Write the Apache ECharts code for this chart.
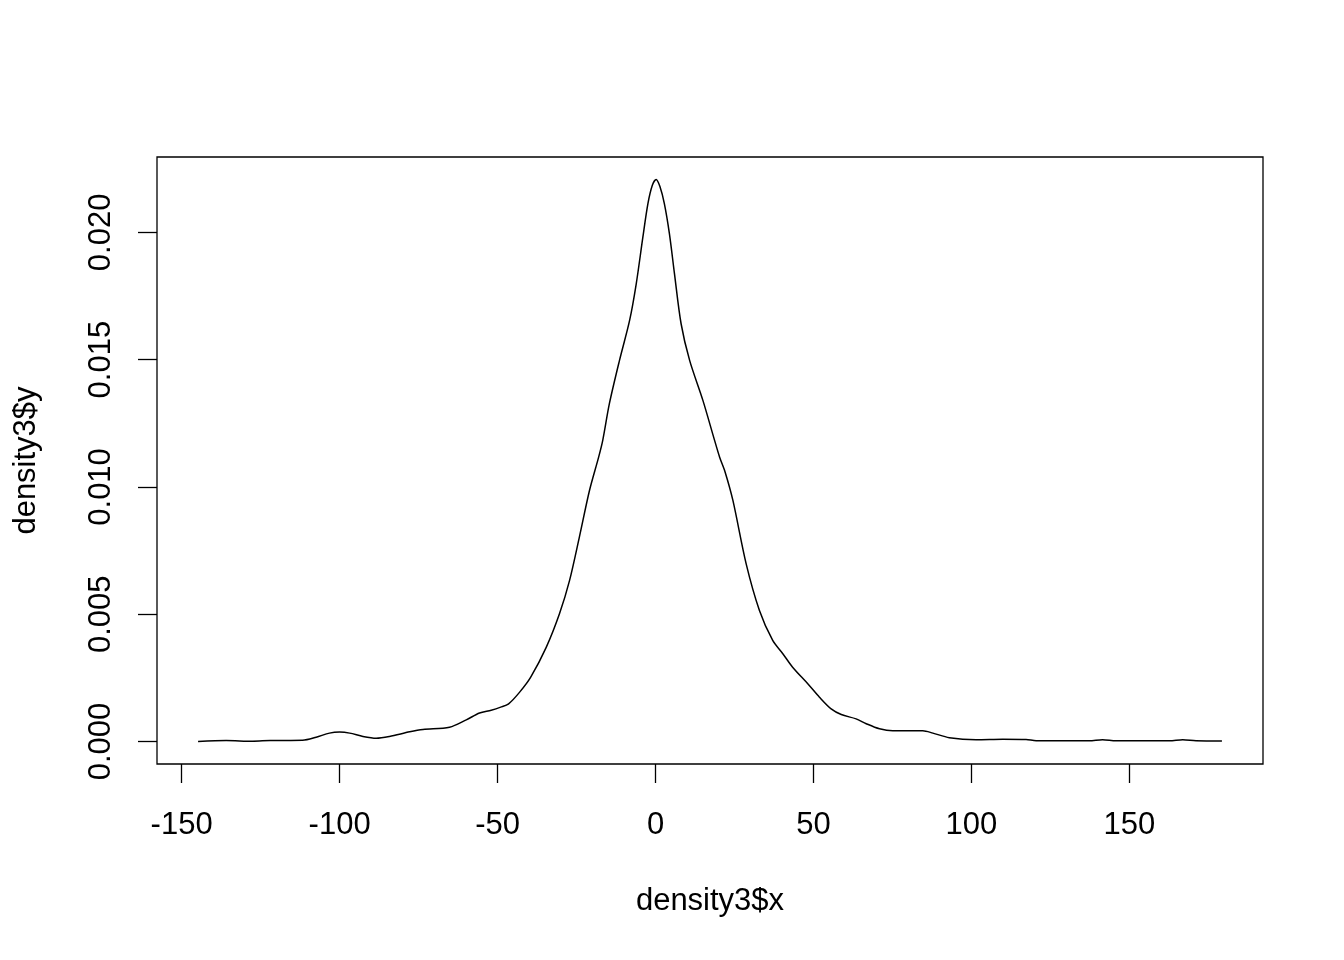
<!DOCTYPE html>
<html>
<head>
<meta charset="utf-8">
<script src="https://cdn.jsdelivr.net/npm/echarts@6/dist/echarts.min.js"></script>
<style>html,body{margin:0;padding:0;background:#fff}#c{width:1344px;height:960px}</style>
</head>
<body>
<div id="c"></div>
<script>
const xValues = [-144.8,-135.9,-127.5,-122,-111.7,-107.4,-103.2,-100,-96.8,-92.6,-88.4,-84.2,-77.8,-73.6,-65.2,-59.9,-55.7,-52,-49,-46.5,-43,-39.5,-34.6,-30.4,-27.2,-24.1,-20.9,-18,-16.7,-14.6,-11.4,-8.2,-6.1,-4,-2.4,-1,0.2,1.4,2.8,4.4,6,8.1,10.8,15,18.7,20.3,22,24.5,28.7,32.9,37.1,40.3,43.4,48.2,51.9,55.6,58.8,63.5,66.7,70.9,75.1,84.6,87.8,93,101.5,109.9,117.3,120.5,137.3,141.5,145.8,162.7,166.9,171.1,179.3];
const yValues = [0,0.00004,0.00001,0.00004,0.00005,0.00017,0.00033,0.00037,0.00033,0.0002,0.00013,0.0002,0.00038,0.00047,0.00056,0.00085,0.00112,0.00123,0.00135,0.00148,0.00194,0.00253,0.0037,0.00502,0.00633,0.00803,0.00986,0.01117,0.01183,0.01327,0.01497,0.01654,0.01798,0.01981,0.02113,0.02185,0.02208,0.0218,0.02113,0.01995,0.01838,0.01641,0.01497,0.0134,0.01183,0.01117,0.0106,0.00947,0.00698,0.00515,0.00397,0.00345,0.00292,0.00227,0.00174,0.00128,0.00106,0.00089,0.0007,0.0005,0.00042,0.00042,0.00033,0.00015,0.00007,0.00009,0.00008,0.00003,0.00003,0.00007,0.00003,0.00003,0.00007,0.00003,0.00002];
const xTicks = [-150,-100,-50,0,50,100,150];
const yTicks = [0,0.005,0.010,0.015,0.020];
const xTitle = 'density3$x';
const yTitle = 'density3$y';

const FONT = 'Liberation Sans';
const FS = 31;
const chart = echarts.init(document.getElementById('c'), null, {renderer:'canvas'});
const data = xValues.map((x,i)=>[x,yValues[i]]);
chart.setOption({
  animation:false,
  backgroundColor:'#fff',
  grid:{left:157,right:81,top:157,bottom:196,show:true,borderColor:'#000',borderWidth:1.3,backgroundColor:'transparent'},
  xAxis:{
    type:'value',min:-157.8,max:192.3,
    name:xTitle,nameLocation:'middle',nameGap:122,
    nameTextStyle:{fontFamily:FONT,fontSize:FS,color:'#000'},
    axisLine:{show:false,onZero:false},
    splitLine:{show:false},
    axisTick:{show:true,inside:false,length:19,customValues:xTicks,lineStyle:{color:'#000',width:1.3}},
    axisLabel:{customValues:xTicks,margin:46,fontFamily:FONT,fontSize:FS,color:'#000',formatter:v=>String(v)}
  },
  yAxis:{
    type:'value',min:-0.000883,max:0.02296,
    name:yTitle,nameLocation:'middle',nameGap:115,nameRotate:90,
    nameTextStyle:{fontFamily:FONT,fontSize:FS,color:'#000'},
    axisLine:{show:false,onZero:false},
    splitLine:{show:false},
    axisTick:{show:true,inside:false,length:19,customValues:yTicks,lineStyle:{color:'#000',width:1.3}},
    axisLabel:{customValues:yTicks,rotate:90,margin:40,fontFamily:FONT,fontSize:FS,color:'#000',formatter:v=>v.toFixed(3)}
  },
  series:[{type:'line',data:data,showSymbol:false,smooth:0.3,lineStyle:{color:'#000',width:1.5},silent:true}]
});
</script>
</body>
</html>
